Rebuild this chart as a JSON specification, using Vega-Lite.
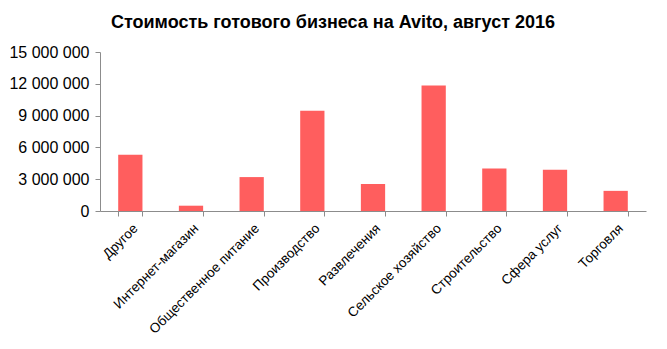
{
  "$schema": "https://vega.github.io/schema/vega-lite/v6.json",
  "autosize": "none",
  "width": 546,
  "height": 159,
  "padding": {"left": 100, "top": 52, "right": 21, "bottom": 138},
  "background": "white",
  "title": {
    "text": "Стоимость готового бизнеса на Avito, август 2016",
    "font": "Liberation Sans",
    "fontSize": 18,
    "fontWeight": "bold",
    "color": "black",
    "anchor": "middle",
    "dx": -40,
    "offset": 12
  },
  "data": {
    "values": [
      {"category": "Другое", "value": 5300000},
      {"category": "Интернет-магазин", "value": 500000},
      {"category": "Общественное питание", "value": 3200000},
      {"category": "Производство", "value": 9450000},
      {"category": "Развлечения", "value": 2550000},
      {"category": "Сельское хозяйство", "value": 11850000},
      {"category": "Строительство", "value": 4000000},
      {"category": "Сфера услуг", "value": 3900000},
      {"category": "Торговля", "value": 1900000}
    ]
  },
  "mark": {"type": "bar", "color": "#FF5E5E"},
  "encoding": {
    "x": {
      "field": "category",
      "type": "nominal",
      "sort": null,
      "scale": {"paddingInner": 0.6, "paddingOuter": 0.3},
      "axis": {
        "title": null,
        "labelAngle": -45,
        "labelFont": "Liberation Sans",
        "labelFontSize": 13.5,
        "labelColor": "#000000",
        "tickBand": "extent",
        "tickSize": 5,
        "tickColor": "#8C8C8C",
        "domainColor": "#8C8C8C",
        "labelPadding": 5
      }
    },
    "y": {
      "field": "value",
      "type": "quantitative",
      "scale": {"domain": [0, 15000000], "nice": false},
      "axis": {
        "title": null,
        "values": [0, 3000000, 6000000, 9000000, 12000000, 15000000],
        "labelExpr": "replace(format(datum.value, ',.0f'), regexp(',', 'g'), ' ')",
        "labelFont": "Liberation Sans",
        "labelFontSize": 16,
        "labelColor": "#000000",
        "grid": false,
        "tickSize": 5,
        "tickColor": "#8C8C8C",
        "domainColor": "#8C8C8C",
        "labelPadding": 6
      }
    }
  },
  "config": {"view": {"stroke": null}}
}
